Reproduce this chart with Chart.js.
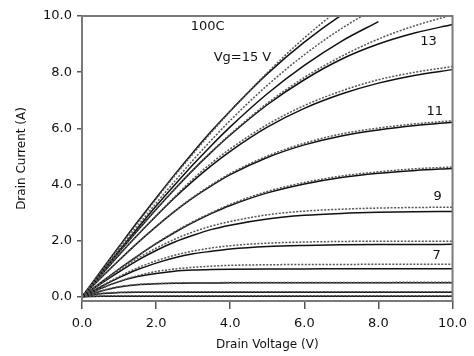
<!DOCTYPE html>
<html>
<head>
<meta charset="utf-8">
<script src="https://cdn.jsdelivr.net/npm/chart.js@4.4.0/dist/chart.umd.min.js"></script>
<style>
  html, body { margin: 0; padding: 0; background: #fff; }
  #wrap { width: 474px; height: 356px; }
</style>
</head>
<body>
<div id="wrap"><canvas id="c" width="474" height="356"></canvas></div>
<script>
// drain voltage grid (V)
const drainVoltage = [0, 0.5, 1, 1.5, 2, 2.5, 3, 3.5, 4, 5, 6, 7, 8, 9, 10];
const gateVoltage = [4, 5, 6, 7, 8, 9, 10, 11, 12, 13, 14, 15];

const measuredCurrent = [
  [0, 0.03, 0.04, 0.04, 0.04, 0.04, 0.04, 0.04, 0.04, 0.04, 0.04, 0.04, 0.04, 0.04, 0.04],
  [0, 0.12, 0.16, 0.17, 0.17, 0.17, 0.18, 0.18, 0.18, 0.18, 0.18, 0.18, 0.18, 0.18, 0.18],
  [0, 0.21, 0.36, 0.44, 0.47, 0.49, 0.5, 0.5, 0.51, 0.51, 0.51, 0.51, 0.51, 0.52, 0.52],
  [0, 0.29, 0.55, 0.75, 0.9, 0.99, 1.05, 1.09, 1.12, 1.14, 1.15, 1.15, 1.16, 1.16, 1.16],
  [0, 0.37, 0.72, 1.03, 1.28, 1.48, 1.63, 1.74, 1.82, 1.91, 1.95, 1.97, 1.98, 1.98, 1.98],
  [0, 0.48, 0.94, 1.37, 1.73, 2.05, 2.31, 2.52, 2.68, 2.92, 3.05, 3.12, 3.16, 3.18, 3.19],
  [0, 0.5, 0.99, 1.46, 1.9, 2.31, 2.68, 3.0, 3.29, 3.75, 4.07, 4.3, 4.45, 4.56, 4.62],
  [0, 0.66, 1.3, 1.92, 2.5, 3.05, 3.55, 3.99, 4.39, 5.01, 5.47, 5.8, 6.01, 6.16, 6.27],
  [0, 0.75, 1.49, 2.2, 2.89, 3.56, 4.2, 4.77, 5.27, 6.13, 6.81, 7.33, 7.73, 8.0, 8.2],
  [0, 0.8, 1.59, 2.37, 3.12, 3.84, 4.53, 5.18, 5.79, 6.89, 7.81, 8.56, 9.18, 9.66, 10.04],
  [0, 0.85, 1.69, 2.52, 3.33, 4.11, 4.87, 5.59, 6.28, 7.53, 8.62, 9.55, 10.32, 10.98, 11.55],
  [0, 0.88, 1.76, 2.63, 3.48, 4.31, 5.1, 5.87, 6.6, 7.98, 9.22, 10.3, 11.3, 12.1, 12.8]
];

// simulated curves (solid)
const simulatedCurrent = [
  [0, 0.02, 0.02, 0.02, 0.02, 0.02, 0.02, 0.02, 0.02, 0.02, 0.02, 0.02, 0.02, 0.02, 0.02],
  [0, 0.11, 0.15, 0.16, 0.16, 0.16, 0.16, 0.16, 0.16, 0.16, 0.16, 0.16, 0.16, 0.16, 0.16],
  [0, 0.2, 0.35, 0.43, 0.46, 0.48, 0.49, 0.49, 0.5, 0.5, 0.5, 0.5, 0.5, 0.5, 0.5],
  [0, 0.29, 0.54, 0.72, 0.83, 0.91, 0.95, 0.97, 0.98, 0.99, 0.99, 1.0, 1.0, 1.0, 1.0],
  [0, 0.35, 0.68, 0.97, 1.2, 1.39, 1.53, 1.62, 1.7, 1.79, 1.83, 1.85, 1.86, 1.86, 1.87],
  [0, 0.46, 0.89, 1.3, 1.65, 1.95, 2.19, 2.4, 2.55, 2.77, 2.9, 2.97, 3.01, 3.03, 3.04],
  [0, 0.5, 0.99, 1.45, 1.89, 2.29, 2.65, 2.97, 3.25, 3.7, 4.02, 4.25, 4.4, 4.5, 4.57],
  [0, 0.66, 1.3, 1.92, 2.5, 3.04, 3.53, 3.96, 4.35, 4.96, 5.41, 5.73, 5.94, 6.1, 6.22],
  [0, 0.75, 1.49, 2.2, 2.88, 3.53, 4.13, 4.68, 5.18, 6.04, 6.71, 7.22, 7.61, 7.89, 8.09],
  [0, 0.8, 1.59, 2.36, 3.11, 3.83, 4.52, 5.16, 5.76, 6.84, 7.73, 8.46, 9.0, 9.4, 9.7],
  [0, 0.82, 1.64, 2.44, 3.23, 3.98, 4.71, 5.4, 6.05, 7.23, 8.24, 9.1, 9.8, null, null],
  [0, 0.9, 1.79, 2.67, 3.52, 4.35, 5.15, 5.91, 6.62, 7.94, 9.07, 10.03, 10.83, 11.5, 12.1]
];

const xTicks = [0, 2, 4, 6, 8, 10];
const yTicks = [0, 2, 4, 6, 8, 10];

// text written inside the plot, placed in data units (V, A)
const notes = [
  { text: '100C', v: 3.39, i: 9.61 },
  { text: 'Vg=15 V', v: 4.33, i: 8.5 },
  { text: '13', v: 9.35, i: 9.09 },
  { text: '11', v: 9.52, i: 6.6 },
  { text: '9', v: 9.6, i: 3.58 },
  { text: '7', v: 9.57, i: 1.45 }
];

const toPoints = row => row.map((val, k) => ({ x: drainVoltage[k], y: val }));

const datasets = [];
measuredCurrent.forEach((row, k) => {
  datasets.push({
    label: 'meas Vg=' + gateVoltage[k],
    data: toPoints(row),
    borderColor: '#555',
    borderWidth: 1.5,
    borderDash: [2, 1.5],
    pointRadius: 0,
    cubicInterpolationMode: 'monotone',
    fill: false
  });
});
simulatedCurrent.forEach((row, k) => {
  datasets.push({
    label: 'sim Vg=' + gateVoltage[k],
    data: toPoints(row),
    borderColor: '#111',
    borderWidth: 1.5,
    pointRadius: 0,
    cubicInterpolationMode: 'monotone',
    fill: false
  });
});

const frameAndNotes = {
  id: 'frameAndNotes',
  afterDatasetsDraw(chart) {
    const { ctx, chartArea: a, scales: { x, y } } = chart;
    ctx.save();
    ctx.strokeStyle = '#7a7a7a';
    ctx.lineWidth = 2;
    ctx.strokeRect(a.left, a.top, a.right - a.left, a.bottom - a.top);
    ctx.fillStyle = '#111';
    ctx.font = '13px "DejaVu Sans"';
    ctx.textAlign = 'center';
    ctx.textBaseline = 'middle';
    notes.forEach(n => ctx.fillText(n.text, x.getPixelForValue(n.v), y.getPixelForValue(n.i)));
    ctx.restore();
  }
};

new Chart(document.getElementById('c'), {
  type: 'line',
  data: { datasets },
  options: {
    responsive: false,
    animation: false,
    layout: { padding: { top: 16, right: 20, left: 0, bottom: 0 } },
    plugins: {
      legend: { display: false },
      tooltip: { enabled: false }
    },
    scales: {
      x: {
        type: 'linear',
        min: 0,
        max: 10,
        afterFit: s => { s.height = 55; },
        afterBuildTicks: s => { s.ticks = xTicks.map(v => ({ value: v })); },
        border: { display: false },
        grid: { drawOnChartArea: false, drawTicks: true, tickLength: 8, color: '#555', lineWidth: 1.5 },
        ticks: {
          padding: 7,
          color: '#111',
          font: { family: 'DejaVu Sans', size: 13 },
          maxRotation: 0,
          callback: v => Number(v).toFixed(1)
        },
        title: {
          display: true,
          text: 'Drain Voltage (V)',
          color: '#111',
          font: { family: 'DejaVu Sans', size: 12 },
          padding: { top: 0, bottom: 4 }
        }
      },
      y: {
        type: 'linear',
        min: -0.15,
        max: 10,
        afterFit: s => { s.width = 82; },
        afterBuildTicks: s => { s.ticks = yTicks.map(v => ({ value: v })); },
        border: { display: false },
        grid: { drawOnChartArea: false, drawTicks: true, tickLength: 5, color: '#555', lineWidth: 1.5 },
        ticks: {
          padding: 5,
          color: '#111',
          font: { family: 'DejaVu Sans', size: 13 },
          callback: v => Number(v).toFixed(1)
        },
        title: {
          display: true,
          text: 'Drain Current (A)',
          color: '#111',
          font: { family: 'DejaVu Sans', size: 12 },
          padding: { top: 15, bottom: 0 }
        }
      }
    }
  },
  plugins: [frameAndNotes]
});
</script>
</body>
</html>
